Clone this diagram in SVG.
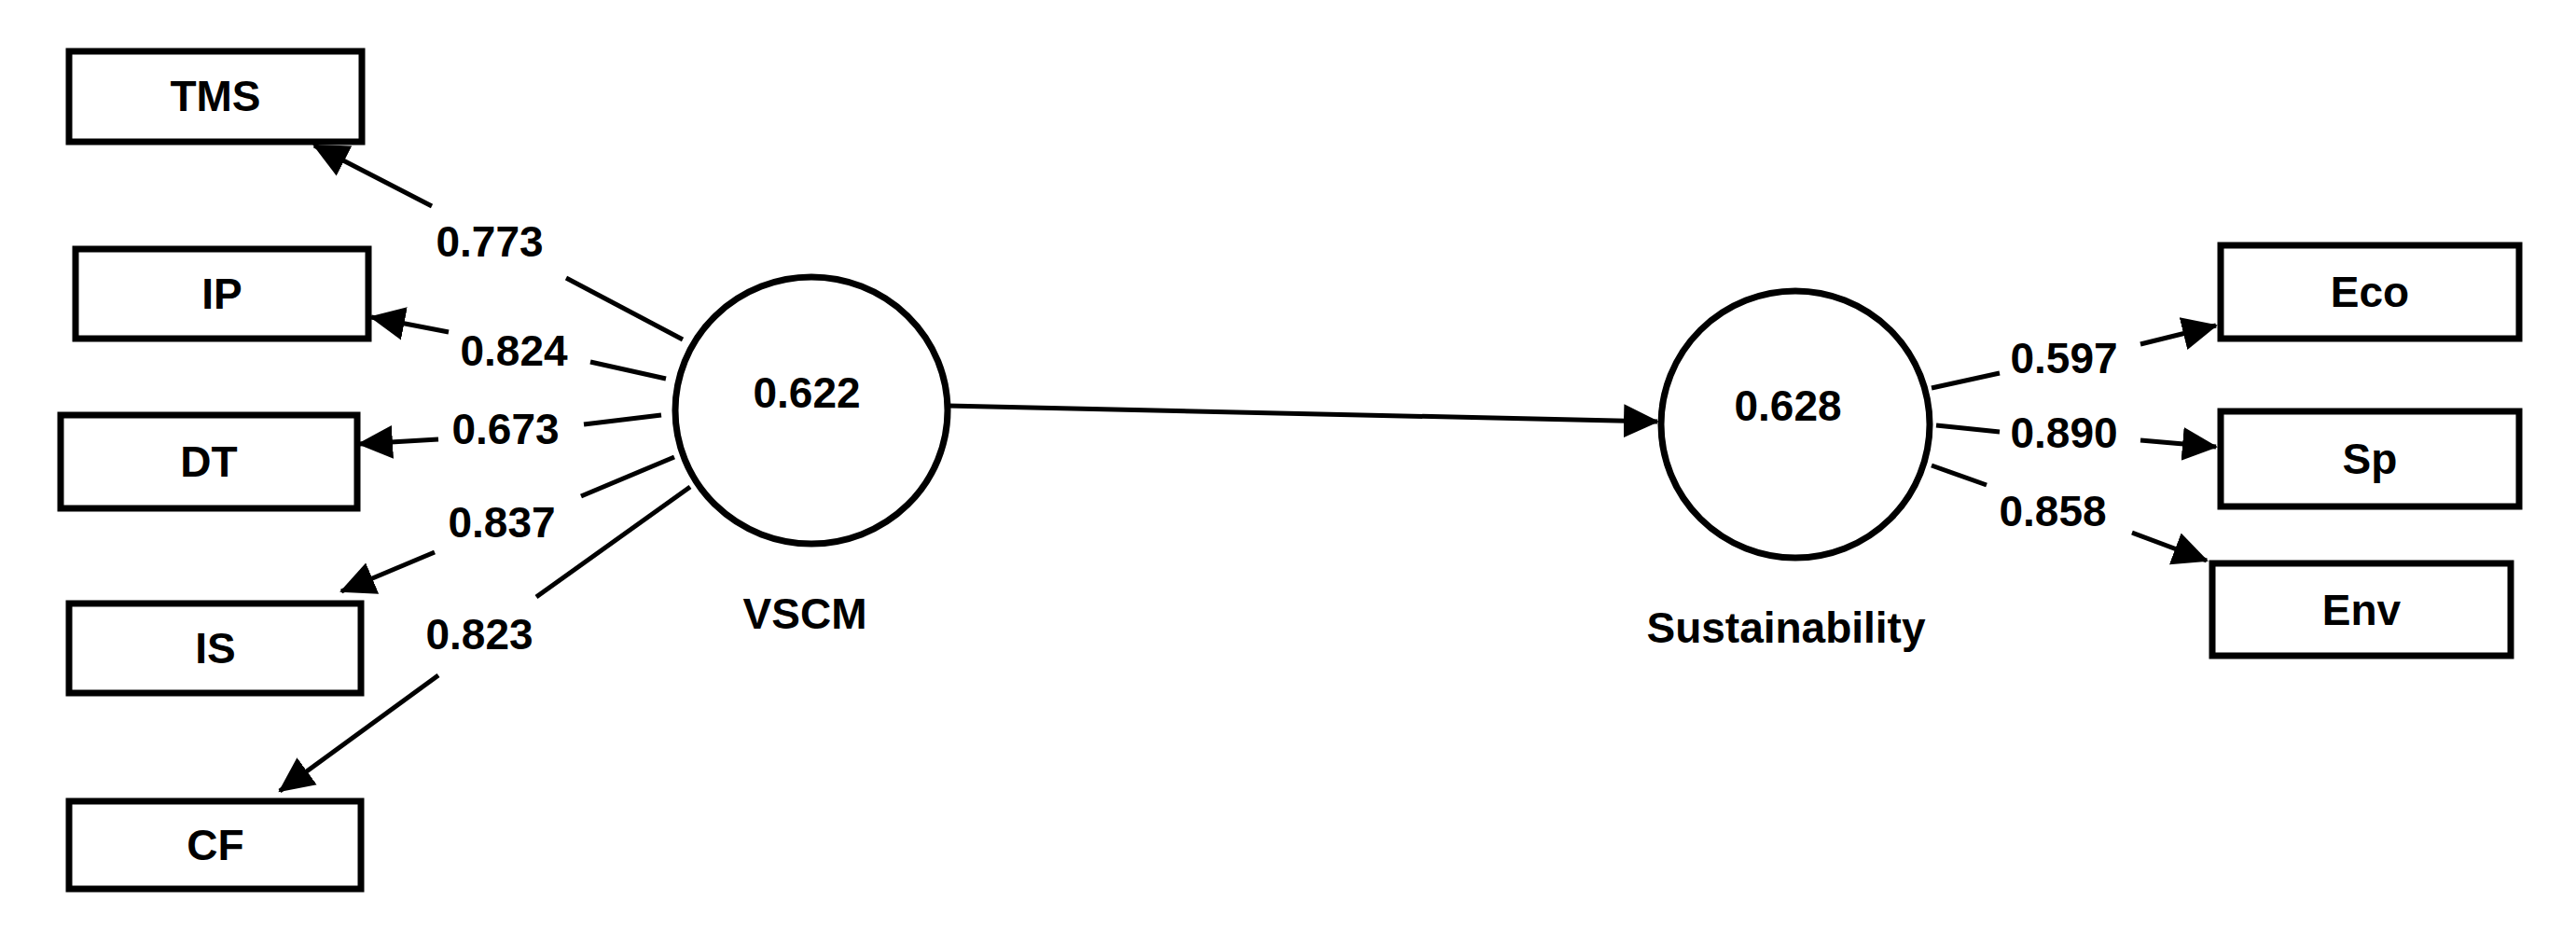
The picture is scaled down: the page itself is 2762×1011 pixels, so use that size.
<svg xmlns="http://www.w3.org/2000/svg" width="2762" height="1011" viewBox="0 0 2762 1011">
<style>
.box{fill:#fff;stroke:#000;stroke-width:7}
.lv{fill:#fff;stroke:#000;stroke-width:7}
.t{font-family:"Liberation Sans",Arial,sans-serif;font-weight:bold;font-size:46px;fill:#000;text-anchor:middle;dominant-baseline:central}
.c line{stroke:#000;stroke-width:5}
</style>
<defs>
<marker id="ah" markerUnits="userSpaceOnUse" markerWidth="40" markerHeight="40" viewBox="0 0 40 40" refX="36" refY="20" orient="auto">
<path d="M0,2 L38,20 L0,38 Z" fill="#000"/>
</marker>
</defs>
<rect width="2762" height="1011" fill="#fff"/>
<g id="TMS"><rect class="box" x="74" y="55" width="314" height="97"/><text class="t" x="231" y="103">TMS</text></g>
<g id="IP"><rect class="box" x="81" y="267" width="314" height="96"/><text class="t" x="238" y="315">IP</text></g>
<g id="DT"><rect class="box" x="65" y="445" width="318" height="100"/><text class="t" x="224" y="495">DT</text></g>
<g id="IS"><rect class="box" x="74" y="647" width="313" height="96"/><text class="t" x="231" y="695">IS</text></g>
<g id="CF"><rect class="box" x="74" y="859" width="313" height="94"/><text class="t" x="231" y="906">CF</text></g>
<g id="VSCM"><ellipse class="lv" cx="870" cy="440" rx="146" ry="143"/><text class="t" x="865" y="421">0.622</text><text class="t" x="863" y="658">VSCM</text></g>
<g id="Sustainability"><ellipse class="lv" cx="1925" cy="455" rx="144" ry="143"/><text class="t" x="1917" y="435">0.628</text><text class="t" x="1915" y="673">Sustainability</text></g>
<g id="Eco"><rect class="box" x="2381" y="263" width="320" height="100"/><text class="t" x="2541" y="313">Eco</text></g>
<g id="Sp"><rect class="box" x="2381" y="441" width="320" height="102"/><text class="t" x="2541" y="492">Sp</text></g>
<g id="Env"><rect class="box" x="2372" y="604" width="320" height="99"/><text class="t" x="2532" y="654">Env</text></g>
<g id="connectors" class="c">
<line x1="732" y1="364" x2="607" y2="298"/><line x1="463" y1="221" x2="337" y2="156" marker-end="url(#ah)"/>
<line x1="714" y1="406" x2="633" y2="388"/><line x1="481" y1="356" x2="398" y2="340" marker-end="url(#ah)"/>
<line x1="709" y1="445" x2="626" y2="455"/><line x1="470" y1="471" x2="385" y2="476" marker-end="url(#ah)"/>
<line x1="723" y1="490" x2="623" y2="532"/><line x1="466" y1="592" x2="366" y2="634" marker-end="url(#ah)"/>
<line x1="740" y1="522" x2="575" y2="640"/><line x1="470" y1="724" x2="300" y2="848" marker-end="url(#ah)"/>
<line x1="1016" y1="435" x2="1777" y2="452" marker-end="url(#ah)"/>
<line x1="2071" y1="416" x2="2144" y2="400"/><line x1="2295" y1="369" x2="2376" y2="349" marker-end="url(#ah)"/>
<line x1="2076" y1="456" x2="2144" y2="463"/><line x1="2295" y1="472" x2="2376" y2="479" marker-end="url(#ah)"/>
<line x1="2071" y1="499" x2="2130" y2="520"/><line x1="2286" y1="571" x2="2366" y2="601" marker-end="url(#ah)"/>
<text class="t" x="525" y="259">0.773</text>
<text class="t" x="551" y="376">0.824</text>
<text class="t" x="542" y="460">0.673</text>
<text class="t" x="538" y="560">0.837</text>
<text class="t" x="514" y="680">0.823</text>
<text class="t" x="2213" y="384">0.597</text>
<text class="t" x="2213" y="464">0.890</text>
<text class="t" x="2201" y="548">0.858</text>
</g>
</svg>
